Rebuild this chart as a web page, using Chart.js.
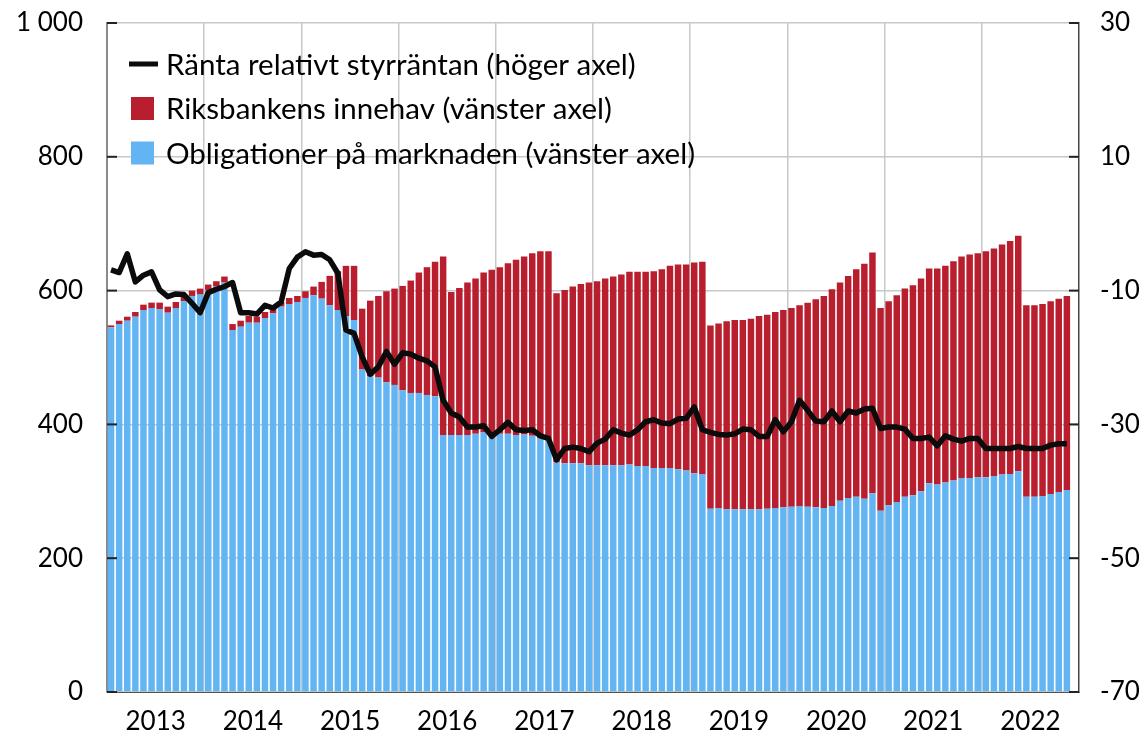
<!DOCTYPE html>
<html>
<head>
<meta charset="utf-8">
<script src="https://cdn.jsdelivr.net/npm/chart.js@4.4.1/dist/chart.umd.min.js"></script>
<style>
  html, body { margin: 0; padding: 0; background: #fff; }
  #wrap { width: 1145px; height: 743px; }
</style>
</head>
<body>
<div id="wrap"><canvas id="chart" width="1145" height="743"></canvas></div>
<script>
// Statsobligationer: marknaden vs Riksbanken, manadsdata 2013-2022

const years = [2013, 2014, 2015, 2016, 2017, 2018, 2019, 2020, 2021, 2022];

// en kategori per manad (sista manaden saknar varde)
const months = [];
years.forEach(y => {
    for (let m = 1; m <= 12; m++) months.push(y + '-' + String(m).padStart(2, '0'));
});

// Obligationer pa marknaden (vanster axel, mdr kr)
const marknaden = [
    545, 550, 555, 561, 571, 574, 572, 567, 574, 584, 592, 594,
    601, 606, 612, 541, 546, 552, 552, 559, 566, 576, 580, 583,
    589, 593, 588, 578, 571, 562, 556, 482, 472, 470, 463, 459,
    451, 447, 447, 444, 442, 384, 384, 384, 384, 386, 388, 384,
    386, 386, 384, 385, 383, 379, 378, 343, 342, 342, 342, 339,
    339, 339, 339, 339, 340, 338, 338, 335, 335, 335, 333, 331,
    327, 325, 274, 275, 273, 273, 273, 273, 273, 274, 275, 276,
    277, 278, 277, 276, 275, 278, 286, 290, 292, 289, 297, 271,
    279, 284, 292, 294, 300, 312, 310, 313, 316, 320, 320, 321,
    321, 323, 325, 326, 330, 292, 292, 293, 296, 299, 302
];

// Riksbankens innehav (vanster axel, mdr kr)
const riksbanken = [
    3, 5, 6, 7, 8, 8, 10, 9, 9, 7, 8, 9,
    8, 8, 9, 9, 9, 10, 9, 9, 9, 7, 9, 9,
    10, 13, 25, 44, 58, 75, 81, 91, 113, 122, 136, 144,
    156, 168, 180, 191, 201, 267, 214, 220, 228, 232, 239, 247,
    249, 255, 262, 266, 273, 280, 281, 253, 259, 264, 268, 273,
    275, 279, 282, 285, 288, 290, 290, 294, 297, 302, 306, 308,
    315, 318, 274, 276, 281, 283, 283, 285, 289, 290, 293, 295,
    297, 300, 305, 311, 317, 324, 326, 332, 340, 351, 360, 303,
    305, 309, 311, 314, 318, 321, 323, 324, 328, 331, 334, 335,
    338, 340, 344, 348, 352, 286, 286, 287, 288, 289, 290
];

// Ranta relativt styrrantan (hoger axel, punkter)
const ranta = [
    -6.9, -7.3, -4.5, -8.7, -7.7, -7.2, -9.9, -10.9, -10.5, -10.6, -11.9, -13.3,
    -10.3, -9.8, -9.4, -8.8, -13.3, -13.3, -13.5, -12.2, -12.6, -11.7, -6.7, -5.0,
    -4.2, -4.7, -4.6, -5.4, -7.4, -15.9, -16.4, -19.9, -22.5, -21.4, -19.1, -21.0,
    -19.3, -19.5, -20.1, -20.5, -21.4, -26.4, -28.3, -28.9, -30.4, -30.4, -30.2, -31.8,
    -30.8, -29.7, -30.8, -30.9, -30.8, -31.7, -32.1, -35.3, -33.6, -33.4, -33.6, -34.1,
    -32.8, -32.2, -30.8, -31.3, -31.6, -30.8, -29.6, -29.3, -29.8, -29.9, -29.2, -29.1,
    -27.4, -30.8, -31.2, -31.5, -31.6, -31.4, -30.7, -30.8, -31.8, -31.8, -29.3, -31.1,
    -29.6, -26.4, -27.9, -29.5, -29.6, -28.0, -29.6, -28.0, -28.3, -27.7, -27.6, -30.6,
    -30.4, -30.4, -30.7, -32.1, -32.1, -31.9, -33.2, -31.7, -32.2, -32.5, -32.1, -32.1,
    -33.6, -33.6, -33.6, -33.6, -33.3, -33.6, -33.6, -33.6, -33.1, -32.9, -32.9
];

const FONT = 'Lato, "Liberation Sans", sans-serif';
const BLUE = '#63b4f3';
const RED = '#b81e2d';
const GRID = '#c8c8c8';

// korta tickstreck som pekar in i diagrammet
const innerTicks = {
    id: 'innerTicks',
    afterDatasetsDraw(chart) {
        const ctx = chart.ctx;
        const area = chart.chartArea;
        ctx.save();
        ctx.strokeStyle = '#222';
        ctx.lineWidth = 2;
        chart.scales.y.ticks.forEach(t => {
            const py = chart.scales.y.getPixelForValue(t.value);
            ctx.beginPath();
            ctx.moveTo(area.left, py);
            ctx.lineTo(area.left + 10, py);
            ctx.stroke();
        });
        chart.scales.y1.ticks.forEach(t => {
            const py = chart.scales.y1.getPixelForValue(t.value);
            ctx.beginPath();
            ctx.moveTo(area.right - 10, py);
            ctx.lineTo(area.right, py);
            ctx.stroke();
        });
        ctx.restore();
    }
};

// legend inne i ritytan
const insideLegend = {
    id: 'insideLegend',
    afterDraw(chart) {
        const ctx = chart.ctx;
        const ds = chart.data.datasets;
        const items = [ds[0], ds[2], ds[1]];
        ctx.save();
        ctx.font = '29.5px ' + FONT;
        ctx.textBaseline = 'middle';
        items.forEach((d, i) => {
            const y = 64 + i * 44.5;
            if (d.type === 'line') {
                ctx.strokeStyle = d.borderColor;
                ctx.lineWidth = 5;
                ctx.beginPath();
                ctx.moveTo(129, y);
                ctx.lineTo(158, y);
                ctx.stroke();
            } else {
                ctx.fillStyle = d.backgroundColor;
                ctx.fillRect(131, y - 11.5, 23, 23);
            }
            ctx.fillStyle = '#000';
            ctx.fillText(d.label, 166, y + 1);
        });
        ctx.restore();
    }
};

// fast bredd for y-axlarna, och ingen extra luft ovanfor ritytan
const fitY = w => s => {
    s.width = w;
    s.paddingTop = 0;
    s.paddingBottom = 0;
};

new Chart(document.getElementById('chart'), {
    data: {
        labels: months,
        datasets: [
            {
                type: 'line',
                label: 'Ränta relativt styrräntan (höger axel)',
                data: ranta,
                yAxisID: 'y1',
                borderColor: '#0b0b0b',
                borderWidth: 5.5,
                pointRadius: 0,
                tension: 0,
                borderJoinStyle: 'round'
            },
            {
                type: 'bar',
                label: 'Obligationer på marknaden (vänster axel)',
                data: marknaden,
                yAxisID: 'y',
                backgroundColor: BLUE,
                barPercentage: 0.8,
                categoryPercentage: 1.0
            },
            {
                type: 'bar',
                label: 'Riksbankens innehav (vänster axel)',
                data: riksbanken,
                yAxisID: 'y',
                backgroundColor: RED,
                barPercentage: 0.8,
                categoryPercentage: 1.0
            }
        ]
    },
    options: {
        responsive: false,
        animation: false,
        devicePixelRatio: 1,
        layout: { padding: { top: 23, left: 0, right: 0, bottom: 0 } },
        plugins: {
            legend: { display: false },
            tooltip: { enabled: false }
        },
        scales: {
            x: {
                stacked: true,
                offset: true,
                grid: {
                    offset: true,
                    drawTicks: false,
                    lineWidth: 1.5,
                    color: c => (c.index > 0 && c.index % 12 === 0) ? GRID : 'rgba(0,0,0,0)'
                },
                border: { display: true, color: '#555', width: 1 },
                ticks: {
                    autoSkip: false,
                    maxRotation: 0,
                    minRotation: 0,
                    padding: 14,
                    labelOffset: -4,
                    color: '#000',
                    font: { family: FONT, size: 26 },
                    callback: (v, i) => i % 12 === 6 ? months[i].slice(0, 4) : ''
                },
                afterFit: s => { s.height = 51; }
            },
            y: {
                position: 'left',
                stacked: true,
                min: 0,
                max: 1000,
                ticks: {
                    stepSize: 200,
                    padding: 24,
                    color: '#000',
                    font: { family: FONT, size: 26 },
                    callback: v => v >= 1000 ? String(v).replace(/(\d)(\d{3})$/, '$1 $2') : v
                },
                grid: { color: GRID, lineWidth: 1.5, drawTicks: false },
                border: { display: true, color: '#8a8a8a', width: 2 },
                afterFit: fitY(107)
            },
            y1: {
                position: 'right',
                min: -70,
                max: 30,
                ticks: {
                    stepSize: 20,
                    padding: 21,
                    color: '#000',
                    font: { family: FONT, size: 26 }
                },
                grid: { drawOnChartArea: false, drawTicks: false },
                border: { display: true, color: '#444', width: 1.5 },
                afterFit: fitY(66)
            }
        }
    },
    plugins: [innerTicks, insideLegend]
});
</script>
</body>
</html>
